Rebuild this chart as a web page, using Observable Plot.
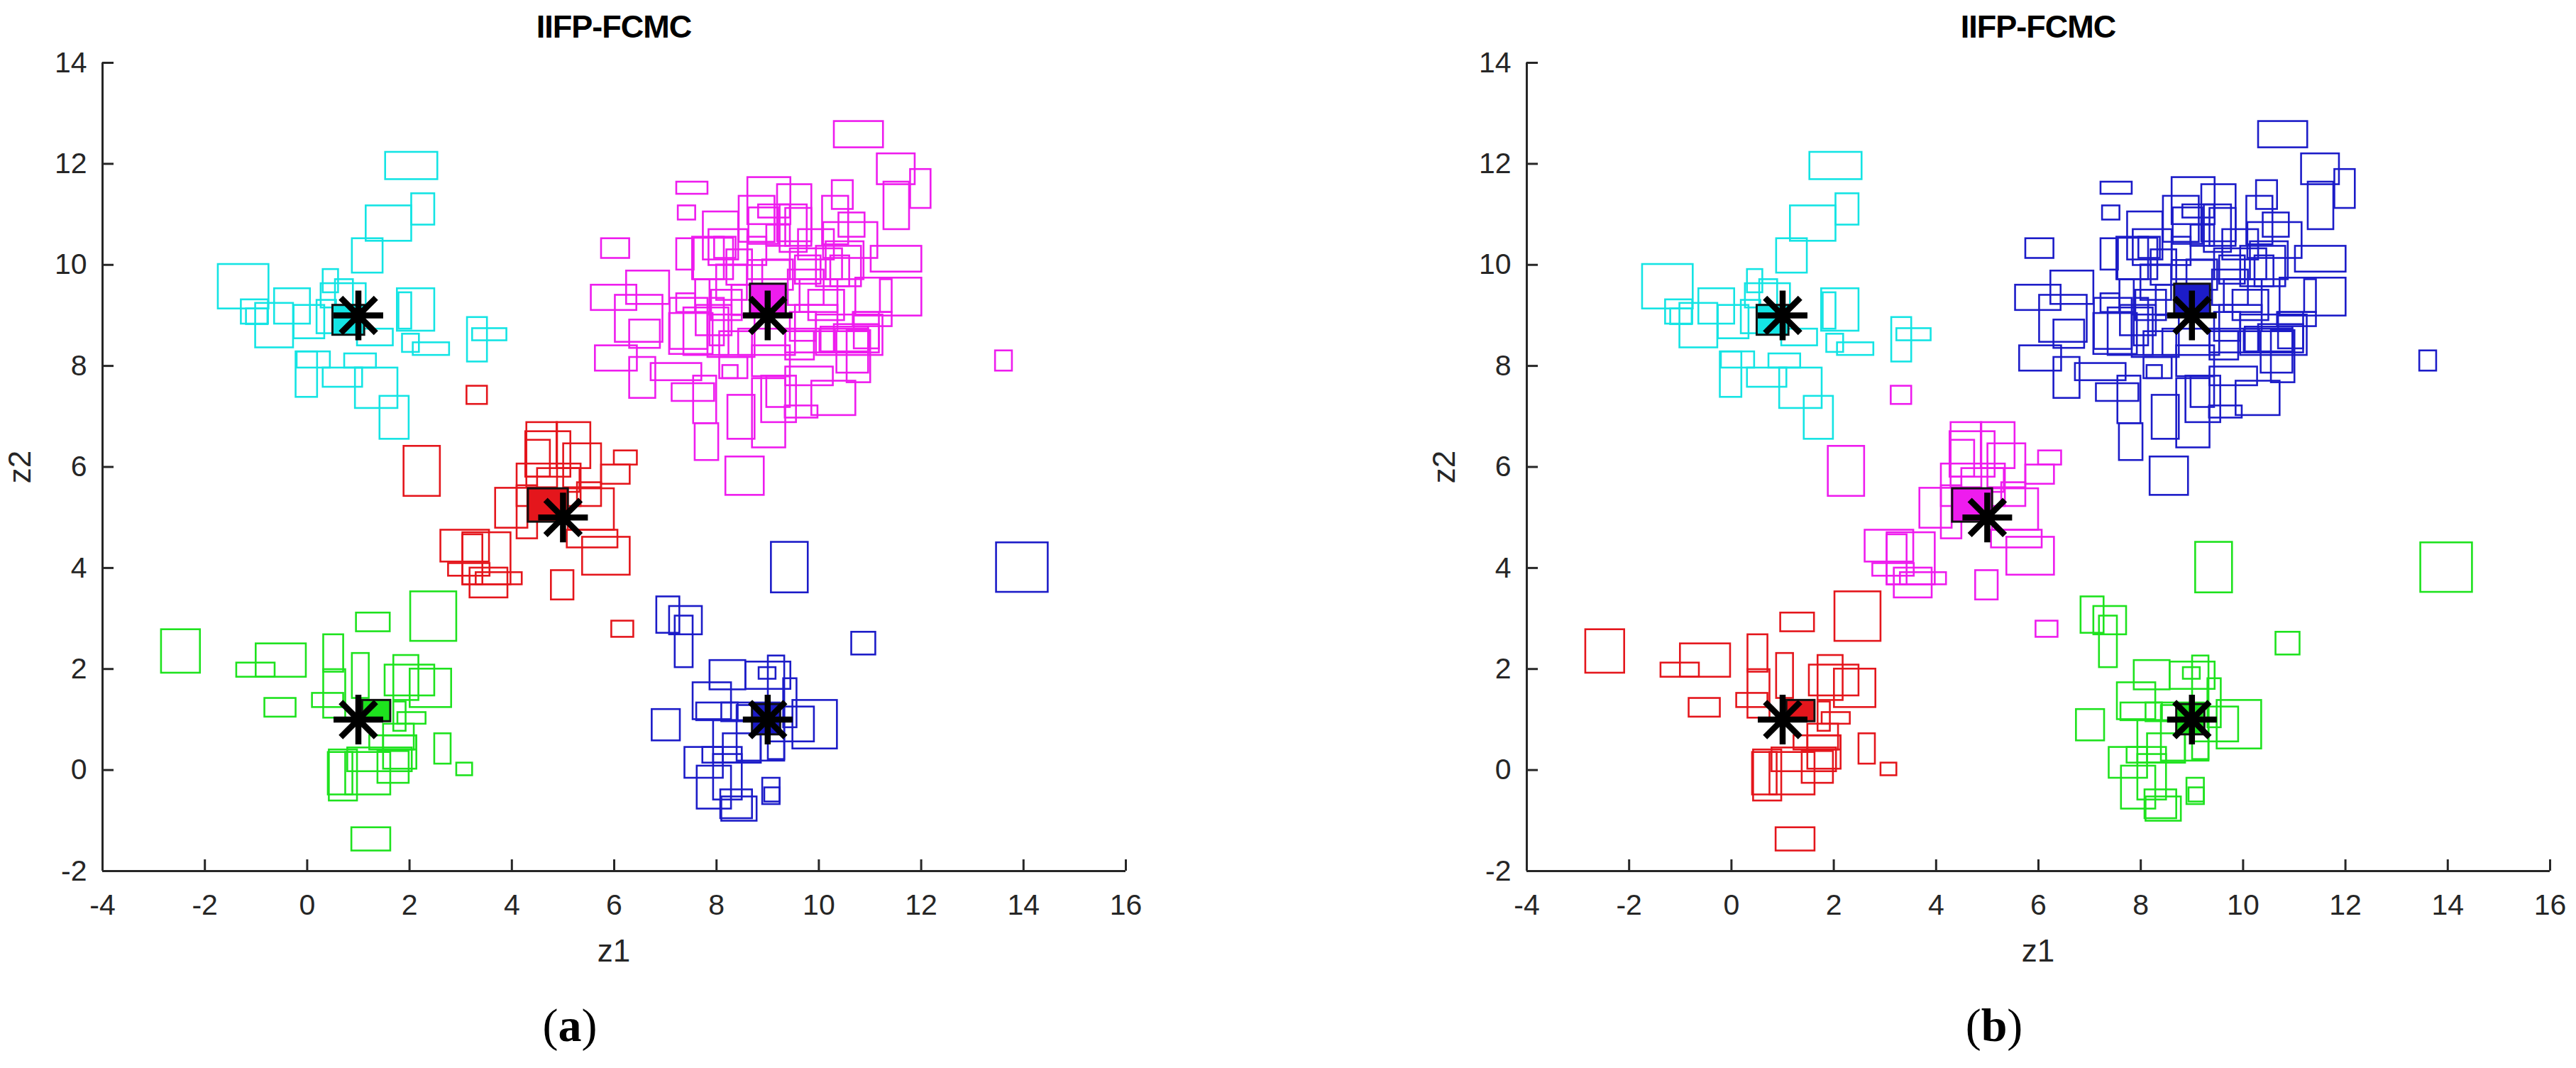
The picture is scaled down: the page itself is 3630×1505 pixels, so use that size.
<!DOCTYPE html>
<html>
<head>
<meta charset="utf-8">
<script src="https://cdn.jsdelivr.net/npm/d3@7"></script>
<script src="https://cdn.jsdelivr.net/npm/@observablehq/plot@0.6"></script>
<style>
  html, body { margin: 0; padding: 0; background: #ffffff; }
  #root { position: relative; width: 3630px; height: 1505px; background: #ffffff; overflow: hidden; }
  .abs { position: absolute; white-space: nowrap; transform: translate(-50%, -50%); color: #262626; }
  .title { font: bold 45px "Liberation Sans", Arial, sans-serif; color: #000; letter-spacing: -1px; }
  .lab { font: 44px "Liberation Sans", Arial, sans-serif; }
  .ylab { transform: translate(-50%, -50%) rotate(-90deg); }
  .cap { font: 66px "Liberation Serif", "DejaVu Serif", serif; color: #000; }
  .cap b { font-weight: bold; }
  .plotwrap { position: absolute; top: 0; width: 1700px; height: 1327px; }
  .plotwrap svg { max-width: none !important; width: 1700px !important; height: 1327px !important; }
</style>
</head>
<body>
<div id="root"></div>
<script>
// ---------- data ----------
const xTicks = [-4, -2, 0, 2, 4, 6, 8, 10, 12, 14, 16];
const yTicks = [-2, 0, 2, 4, 6, 8, 10, 12, 14];
const xDomain = [-4, 16];
const yDomain = [-2, 14];
const titleText = "IIFP-FCMC";
const xLabel = "z1";
const yLabel = "z2";
const panelLetters = ["a", "b"];

// interval rectangles [z1 low, z1 high, z2 low, z2 high]
// cluster 1: top-left group
const cluster1 = [
  [1.53,2.55,11.69,12.23],[1.15,2.04,10.47,11.17],[2.04,2.49,10.79,11.41],[0.88,1.48,9.84,10.52],
  [-1.74,-0.75,9.13,10.01],[-1.29,-0.76,8.83,9.31],[-1.19,-0.77,8.82,9.13],[-1.01,-0.27,8.36,9.24],
  [-0.64,0.06,8.83,9.53],[-0.26,0.34,8.54,9.20],[0.19,0.57,8.64,9.30],[0.31,0.61,9.45,9.91],
  [0.55,0.90,9.20,9.71],[0.27,1.15,9.15,9.63],[0.98,1.68,8.40,8.73],[1.76,2.49,8.69,9.53],
  [1.79,2.04,8.73,9.45],[1.86,2.19,8.27,8.63],[2.07,2.78,8.21,8.46],[3.13,3.52,8.08,8.96],
  [3.23,3.90,8.50,8.74],[-0.22,0.20,7.38,8.28],[-0.20,0.45,7.96,8.28],[0.31,1.08,7.58,7.96],
  [0.73,1.35,7.96,8.24],[0.94,1.77,7.16,7.96],[1.42,1.99,6.55,7.40]
];
// cluster 2: top-right group
const cluster2 = [
  [10.30,11.26,12.32,12.84],[11.14,11.88,11.59,12.20],[11.79,12.19,11.12,11.89],[11.27,11.77,10.70,11.64],
  [7.22,7.83,11.40,11.64],[7.25,7.59,10.89,11.17],[5.75,6.30,10.13,10.52],[8.61,9.45,10.80,11.73],
  [9.19,9.86,10.46,11.59],[8.44,9.14,10.45,11.36],[10.26,10.67,11.10,11.67],[10.07,10.58,10.40,11.36],
  [8.82,9.44,10.93,11.19],[8.63,9.21,10.41,11.13],[9.24,9.77,10.25,11.19],[7.74,8.43,10.10,11.05],
  [10.39,10.90,10.55,11.03],[10.09,11.15,10.13,10.84],[7.85,8.61,9.99,10.70],[7.22,7.56,9.90,10.52],
  [7.53,8.15,9.71,10.55],[11.02,12.01,9.86,10.37],[9.44,10.46,9.71,10.32],[9.95,10.83,9.57,10.37],
  [6.24,7.08,9.22,9.88],[5.55,6.44,9.10,9.60],[6.02,6.95,8.47,9.40],[6.30,6.90,8.35,8.91],
  [5.63,6.45,7.90,8.40],[6.30,6.81,7.36,8.17],[6.72,7.71,7.71,8.05],[7.13,7.96,7.30,7.65],
  [7.55,8.00,6.86,7.80],[7.58,8.04,6.13,6.86],[8.18,8.93,5.44,6.20],[8.22,8.75,6.55,7.42],
  [8.70,9.35,6.38,7.75],[8.88,9.56,6.88,7.80],[9.34,9.98,6.97,7.21],[9.86,10.72,7.02,7.70],
  [8.12,8.42,7.75,8.01],[13.45,13.78,7.90,8.30],[10.72,12.01,8.99,9.74],[10.69,11.18,8.34,9.06],
  [10.30,11.18,8.26,8.82],[10.55,11.01,7.67,8.70],[7.08,7.93,8.23,9.04],[7.55,8.33,9.71,10.53],
  [7.96,8.38,10.13,10.55],[8.61,8.98,9.99,10.55],[8.61,9.44,9.71,10.09],[8.98,9.44,10.37,10.79],
  [9.35,9.86,10.37,11.12],[9.54,10.04,9.62,10.18],[10.14,10.88,9.71,10.46],[10.23,10.60,9.57,10.18],
  [7.59,7.87,9.06,9.71],[7.22,7.59,9.06,9.43],[9.63,10.37,9.06,9.71],[11.20,11.43,9.06,9.71],
  [7.09,7.83,8.33,9.34],[7.36,8.24,8.21,9.15],[7.83,8.75,8.17,9.01],[7.87,8.15,8.40,9.34],
  [8.06,8.70,8.21,8.68],[8.06,8.61,7.75,8.17],[8.70,9.44,7.79,8.40],[9.35,9.91,8.12,8.68],
  [9.44,9.95,8.49,9.06],[9.54,10.37,8.68,9.20],[10.04,10.97,8.26,8.77],[9.35,10.28,7.61,7.98],
  [8.43,9.54,8.21,8.73],[9.35,10.32,8.26,8.73],[10.67,11.43,8.78,9.06],[10.35,10.97,7.86,8.68],
  [10.02,10.97,8.28,8.73],[9.95,11.25,8.21,9.01],[8.00,8.60,9.30,10.00],[8.30,9.00,9.00,9.60],
  [7.90,8.50,8.90,9.50],[9.40,10.10,9.20,9.90],[9.80,10.50,8.90,9.50],[8.20,8.70,9.60,10.30],
  [9.60,10.30,10.10,10.70],[7.60,8.30,8.60,9.20],[8.90,9.50,9.50,10.10],[8.98,9.44,7.18,7.79]
];
// cluster 3: centre group
const cluster3 = [
  [3.12,3.52,7.24,7.60],[1.89,2.60,5.42,6.41],[4.29,4.89,5.59,6.88],[4.88,5.54,5.97,6.88],
  [4.27,5.15,5.80,6.70],[4.29,4.75,5.80,6.53],[5.01,5.75,5.59,6.46],[6.00,6.45,6.04,6.32],
  [5.75,6.31,5.66,6.04],[4.10,5.35,5.22,6.06],[4.50,5.33,5.50,5.97],[3.68,4.31,4.79,5.58],
  [4.10,4.50,4.58,5.63],[5.10,6.00,4.75,5.57],[5.28,5.75,5.22,5.69],[5.08,6.07,4.40,4.75],
  [5.38,6.31,3.86,4.61],[2.61,3.56,4.12,4.75],[3.04,3.43,3.67,4.66],[3.04,3.98,3.67,4.70],
  [2.76,3.57,3.84,4.09],[3.18,3.92,3.41,4.00],[3.30,4.20,3.67,3.91],[4.77,5.21,3.37,3.95],
  [5.95,6.38,2.63,2.95]
];
// cluster 4: bottom-left group
const cluster4 = [
  [-2.85,-2.09,1.92,2.78],[-1.38,-0.63,1.84,2.12],[-1.00,-0.02,1.84,2.50],[-0.83,-0.22,1.05,1.42],
  [0.96,1.62,2.74,3.11],[2.02,2.92,2.55,3.53],[0.32,0.71,1.94,2.68],[0.32,0.75,1.03,1.99],
  [0.10,0.71,1.24,1.52],[0.88,1.21,1.42,2.31],[1.69,2.18,1.38,2.27],[1.52,2.49,1.47,2.08],
  [2.01,2.82,1.24,2.00],[1.69,1.93,0.77,1.35],[1.77,2.32,0.91,1.14],[1.22,2.14,0.40,0.68],
  [2.49,2.81,0.12,0.72],[2.92,3.23,-0.11,0.14],[0.43,0.98,-0.61,0.40],[0.41,0.89,-0.49,0.35],
  [0.75,1.63,-0.49,0.35],[0.79,2.05,-0.03,0.44],[1.38,1.99,-0.26,0.37],[1.49,2.14,0.02,0.68],
  [0.87,1.63,-1.60,-1.14],[1.49,2.09,0.40,0.91]
];
// cluster 5: bottom-right group
const cluster5 = [
  [9.07,9.79,3.51,4.51],[13.47,14.48,3.52,4.50],[6.83,7.28,2.71,3.43],[7.08,7.72,2.68,3.24],
  [7.19,7.54,2.03,3.05],[10.64,11.11,2.28,2.73],[7.87,8.57,1.59,2.17],[8.57,9.45,1.60,2.14],
  [9.01,9.33,0.21,2.26],[8.83,9.16,1.80,2.03],[7.54,8.29,1.00,1.73],[7.61,8.42,0.98,1.33],
  [6.74,7.29,0.58,1.20],[9.31,9.57,0.84,1.81],[9.49,10.36,0.42,1.38],[9.03,9.91,0.56,1.25],
  [8.10,9.24,0.96,1.33],[7.94,8.87,0.14,0.98],[8.13,8.87,0.14,0.72],[8.40,9.33,0.18,1.28],
  [7.38,8.13,-0.16,0.45],[7.73,8.50,0.14,0.45],[7.62,8.29,-0.77,0.08],[7.94,8.50,-0.59,0.31],
  [8.08,8.70,-0.96,-0.39],[8.10,8.79,-1.01,-0.53],[8.90,9.24,-0.68,-0.16],[8.94,9.24,-0.63,-0.35]
];
// prototype (filled) rectangles per cluster
const prototypes = [
  [0.50,1.12,8.61,9.20],
  [8.66,9.36,9.02,9.62],
  [4.32,5.10,4.91,5.57],
  [1.08,1.63,0.96,1.38],
  [8.70,9.25,0.70,1.30]
];
// cluster centres (asterisks)
const centerZ1 = [1, 9, 5, 1, 9];
const centerZ2 = [9, 9, 5, 1, 1];

// colour assignment of clusters 1..5 in each panel
const colorsA = ["#14e4e4", "#ee1cee", "#e4161c", "#1ee21e", "#1c1cc8"];
const colorsB = ["#14e4e4", "#1c1cc8", "#ee1cee", "#e4161c", "#1ee21e"];

// ---------- build ----------
const clusters = [cluster1, cluster2, cluster3, cluster4, cluster5];
function rectTable(colors) {
  const rows = [];
  clusters.forEach((cl, k) => cl.forEach(r => rows.push({x1: r[0], x2: r[1], y1: r[2], y2: r[3], c: colors[k]})));
  return rows;
}
function protoTable(colors) {
  return prototypes.map((r, k) => ({x1: r[0], x2: r[1], y1: r[2], y2: r[3], c: colors[k]}));
}
const centers = centerZ1.map((z, i) => ({z1: z, z2: centerZ2[i]}));

const matlabStar = {
  draw(ctx, size) {
    const r = Math.sqrt(size / Math.PI);
    const d = r * Math.SQRT1_2;
    ctx.moveTo(-r, 0); ctx.lineTo(r, 0);
    ctx.moveTo(0, -r); ctx.lineTo(0, r);
    ctx.moveTo(-d, -d); ctx.lineTo(d, d);
    ctx.moveTo(-d, d); ctx.lineTo(d, -d);
  }
};

const W = 1700, H = 1327, mL = 144, mR = 114, mT = 88, mB = 100;
const plotW = W - mL - mR, plotH = H - mT - mB;
const axisColor = "#262626";

function makePlot(colors) {
  return Plot.plot({
    width: W, height: H,
    marginLeft: mL, marginRight: mR, marginTop: mT, marginBottom: mB,
    x: {domain: xDomain, label: null},
    y: {domain: yDomain, label: null},
    color: {type: "identity"},
    style: {background: "transparent", color: axisColor, fontFamily: "'Liberation Sans', Arial, sans-serif", fontSize: "41px", overflow: "visible"},
    marks: [
      Plot.rect(rectTable(colors), {x1: "x1", x2: "x2", y1: "y1", y2: "y2", stroke: "c", fill: "none", strokeWidth: 2.6}),
      Plot.rect(protoTable(colors), {x1: "x1", x2: "x2", y1: "y1", y2: "y2", fill: "c", stroke: "#111", strokeWidth: 3}),
      Plot.dot(centers, {x: "z1", y: "z2", r: 35, symbol: matlabStar, stroke: "#000", fill: "none", strokeWidth: 8.5}),
      Plot.ruleX(xTicks, {x: d => d, insetTop: plotH - 16, stroke: axisColor, strokeWidth: 3}),
      Plot.ruleY(yTicks, {y: d => d, insetRight: plotW - 16, stroke: axisColor, strokeWidth: 3}),
      Plot.ruleX([xDomain[0]], {stroke: axisColor, strokeWidth: 3}),
      Plot.ruleY([yDomain[0]], {stroke: axisColor, strokeWidth: 3}),
      Plot.axisX(xTicks, {tickSize: 0, tickPadding: 32, fontSize: 41, tickFormat: d => String(d), fill: axisColor}),
      Plot.axisY(yTicks, {tickSize: 0, tickPadding: 22, fontSize: 41, tickFormat: d => String(d), fill: axisColor})
    ]
  });
}

const root = document.getElementById("root");
const offsets = [0, 2007];
[colorsA, colorsB].forEach((colors, i) => {
  const L = offsets[i];
  const wrap = document.createElement("div");
  wrap.className = "plotwrap";
  wrap.style.left = L + "px";
  wrap.appendChild(makePlot(colors));
  root.appendChild(wrap);
  const cx = L + mL + plotW / 2;
  const add = (cls, html, x, y) => {
    const d = document.createElement("div");
    d.className = "abs " + cls;
    d.innerHTML = html;
    d.style.left = x + "px";
    d.style.top = y + "px";
    root.appendChild(d);
  };
  add("title", titleText, cx, 38);
  add("lab", xLabel, cx, 1340);
  add("lab ylab", yLabel, L + 28, mT + plotH / 2);
  add("cap", "(<b>" + panelLetters[i] + "</b>)", cx - 62, 1445);
});
</script>
</body>
</html>
